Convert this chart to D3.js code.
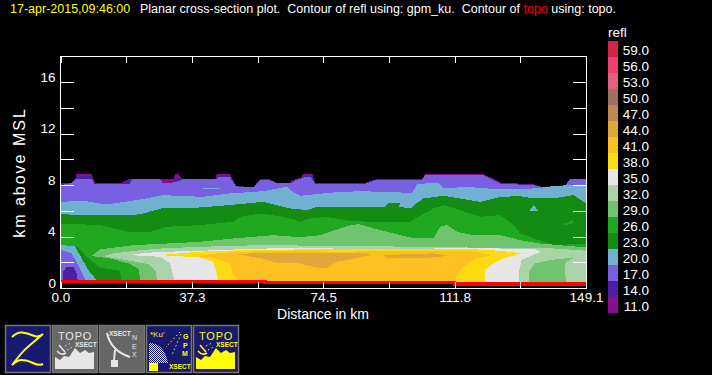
<!DOCTYPE html>
<html>
<head>
<meta charset="utf-8">
<script src="https://cdn.jsdelivr.net/npm/d3@7"></script>
<style>
html, body { margin: 0; padding: 0; background: #000; }
svg { display: block; }
text { font-family: "Liberation Sans", Arial, sans-serif; white-space: pre; }
</style>
</head>
<body>
<script>
// legend
var levels = ["59.0","56.0","53.0","50.0","47.0","44.0","41.0","38.0","35.0","32.0","29.0","26.0","23.0","20.0","17.0","14.0","11.0"];
var levelColors = ["#cf2748","#f0406f","#e0607f","#a07060","#c08850","#e0a838","#fcc020","#fcdc10","#e6e6e6","#a8d4a8","#70c470","#20a820","#148c14","#70b0d0","#7860e0","#4c20a0","#880e90"];

// axes
var distanceTicks = [0, 18.64, 37.28, 55.91, 74.55, 93.19, 111.83, 130.46, 149.1];
var distanceLabels = ["0.0", "", "37.3", "", "74.5", "", "111.8", "", "149.1"];
var heightTicks = [2, 4, 6, 8, 10, 12, 14, 16];
var heightLabels = ["", "4", "", "8", "", "12", "", "16"];

// contour outlines as [distance km, height km], painted lowest level first
var contour11 = [[0,0.4],[0,8.18],[4.1,8.18],[4.4,8.85],[8.8,8.85],[9.8,8.18],[16.9,8.13],[19.3,8.44],[28.2,8.46],[32,8.46],[32.5,8.85],[33.4,8.85],[34.7,8.46],[44,8.46],[44.3,8.85],[48.1,8.85],[50,7.87],[54.7,7.82],[56.6,8.46],[59.4,8.46],[61.3,8.18],[65.1,8.18],[66,8.4],[68,8.55],[69,8.85],[71.5,8.85],[72.2,8.18],[86.4,8.18],[89.7,8.46],[102.5,8.46],[103.5,8.85],[120,8.85],[125.2,8.18],[134.2,8.07],[137,7.82],[142.7,7.82],[144.6,8.46],[149.1,8.46],[149.1,0.4]];
var contour14 = [[0,0.4],[0,8.08],[3.8,8.12],[4.5,8.72],[8.7,8.72],[9.7,8.1],[16.9,8.08],[19.2,8.38],[28.2,8.44],[28.8,8.2],[32,8.2],[32.6,8.66],[33.3,8.66],[34.7,8.44],[44.1,8.44],[44.6,8.76],[47.8,8.76],[49.9,7.92],[54.7,7.86],[56.6,8.42],[59.4,8.42],[61.3,8.15],[65.1,8.15],[66.3,8.36],[68,8.52],[69.3,8.76],[71.4,8.76],[72.2,8.13],[86.4,8.13],[89.7,8.44],[102.5,8.44],[103.5,8.78],[120,8.78],[125.1,8.13],[134.2,8.03],[137,7.84],[142.7,7.84],[144.6,8.46],[149.1,8.46],[149.1,0.4]];
var contour17 = [[0,0.4],[0,7.98],[3.2,8.18],[4.4,8.51],[8.8,8.51],[9.8,8.05],[19.6,8.05],[20.2,8.46],[28.2,8.46],[28.9,8.2],[32,8.2],[33.4,8.3],[34.7,8.46],[44.1,8.46],[45,8.65],[48,8.65],[49.8,7.9],[54.7,7.84],[56.6,8.38],[59.4,8.38],[61.3,8.13],[65.1,8.13],[66.6,8.35],[68,8.5],[70,8.66],[71,8.66],[72.2,8.1],[86.4,8.1],[89.7,8.42],[102.5,8.42],[103.5,8.75],[120,8.75],[125,8.1],[134.2,8],[137,7.84],[142.7,7.84],[144.6,8.46],[149.1,8.46],[149.1,0.4]];
var lobe14 = [[0.6,0.4],[0.6,1.2],[1.6,1.6],[3.6,1.65],[4.6,1.1],[5,0.4]];
var contour20 = [[0,6.7],[6.5,6.78],[11.2,6.57],[15,6.57],[19.7,6.76],[24,6.95],[29,7.22],[40.4,7.09],[48,7.35],[57.5,7.53],[61.8,7.74],[64.2,7.87],[66,7.48],[68,7.17],[77.4,7.43],[85,7.53],[96.4,7.43],[99.7,7.35],[101.1,8.07],[105.8,8.18],[107.3,8.13],[108.7,7.74],[115.3,7.87],[121,7.74],[126.7,7.66],[134.2,7.74],[139.9,7.92],[143.7,7.99],[149.1,7.99],[149.1,0.4],[7.6,0.4],[6.1,1.13],[4.8,1.9],[3.2,2.69],[0,2.98]];
var sliver20 = [[40.4,7.76],[45.3,7.76],[45.3,7.7],[40.4,7.7]];
var contour23 = [[0,5.74],[6.5,5.67],[14,5.67],[20.7,5.67],[23.5,5.8],[29,6.21],[38.6,6.24],[48,6.45],[57.5,6.7],[61.3,6.45],[65.1,6.19],[69.9,6.06],[72.7,6.31],[80.3,6.31],[92.1,6.31],[93,6.62],[96.4,6.62],[96,6.31],[99.4,6.18],[100.9,6.57],[103,6.96],[108.7,7.17],[113.4,6.96],[119.1,6.7],[124.8,7.09],[130.4,7.14],[134.2,6.96],[139.9,6.96],[145.6,7.22],[148.5,6.7],[149.1,6.57],[149.1,0.4],[11,0.4],[8.2,1.26],[6,2.3],[4.1,3.26],[0,3.33]];
var blob20 = [[133,5.98],[134.3,6.45],[135.5,5.98]];
var contour26 = [[0,5.02],[11.2,4.89],[18.8,4.37],[25.4,4.37],[30.1,4.76],[39.6,4.89],[49,5.15],[51,5.54],[56.6,5.79],[63.2,5.54],[68,5.15],[70.8,5.41],[75.5,5.54],[80.3,5.28],[86.9,5.15],[99.2,5.15],[100.7,5.41],[105.8,6.18],[108.7,6.44],[113.4,6.05],[119.1,5.54],[124.8,5.67],[128.6,4.89],[130.4,4.24],[139.9,3.33],[149.1,3.46],[149.1,0.4],[17.4,0.4],[16.9,1.34],[11.2,1.6],[7.6,2.37],[4.6,3.26],[0,3.33]];
var blob26 = [[142.2,4.89],[145.5,5.28],[145.2,4.96]];
var contour29 = [[8.8,2.48],[11.2,3],[13.1,3.07],[20.7,3.33],[30.1,3.46],[39.6,3.59],[49,3.85],[60.4,4.11],[68,3.95],[73.7,4.11],[81.2,4.81],[84.6,4.97],[90.7,4.5],[99.2,3.93],[105.8,3.85],[107.7,4.76],[109.7,4.89],[112.5,4.37],[117,4.11],[124.8,4.11],[130.4,3.72],[136.1,3.46],[149.1,3.15],[149.1,0.4],[22.8,0.4],[22.1,1.5],[19.3,1.91],[14,2.3]];
var contour32 = [[12.2,2.48],[15,2.69],[23,2.95],[30,3.1],[39.6,3.2],[49,3.28],[60,3.35],[68,3.3],[80,3.3],[100,3.2],[110,3.2],[120,3.1],[130,3.1],[136,3.15],[149.1,2.9],[149.1,0.4],[27.5,0.4],[27,1.3],[25,1.85],[20,2.1]];
var contour35 = [[19.3,2.56],[24.5,2.74],[30.1,2.82],[39.6,2.89],[49,2.99],[68,3.15],[77.4,3.07],[96.4,3.07],[105.8,3.07],[115.3,3.15],[124.8,3.07],[134.2,3.07],[136.3,2.82],[134.1,2.56],[130.8,2.17],[130.1,1.27],[130.1,0.4],[32.5,0.4],[31.1,1.91],[28.2,2.43]];
var contour38 = [[28.2,2.56],[35.6,2.74],[43.4,2.89],[68,3],[105.8,3],[118,3],[124.8,2.89],[130.8,2.7],[125.6,2.3],[122.8,1.92],[120.4,1.4],[120.4,0.4],[45,0.4],[44.3,1.13],[43.4,2.04],[39.6,2.37]];
var contour41 = [[38.6,2.48],[44.3,2.69],[51,2.82],[68,2.9],[77.4,2.82],[105.8,2.9],[117,2.89],[122.4,2.55],[117.7,2.3],[114.3,1.65],[112.2,0.87],[112.2,0.4],[51,0.4],[49,1.13],[48.1,1.91],[43.4,2.37],[39.6,2.43]];
var patch44a = [[50.5,2.61],[55.6,2.74],[68,2.69],[87,2.69],[88,2.55],[87,2.49],[78.5,2.04],[75.5,1.57],[73.7,1.52],[68,1.91],[61.4,1.96],[57,2.3]];
var patch44b = [[91.6,2.55],[100,2.65],[105.8,2.69],[109.7,2.55],[107.7,2.4],[99,2.3],[93,2.3]];
var island29 = [[133,0.4],[133,1.27],[134.6,1.92],[138.9,2.17],[145.5,2.38],[143.1,1.92],[143.4,0.4]];

// topo line [distance km, height km]
var topo = [[0,0.5],[58,0.5],[58,0.42],[111.8,0.42],[111.8,0.33],[149.1,0.33]];

var width = 712, height = 375;
var svg = d3.select("body").append("svg").attr("width", width).attr("height", height);

var x = d3.scaleLinear().domain([0, 149.1]).range([60.5, 586]);
var y = d3.scaleLinear().domain([0, 18]).range([288, 56.5]);
var color = d3.scaleOrdinal().domain(levels).range(levelColors);

// title
var title = svg.append("text").attr("x", 10).attr("y", 13).attr("font-size", 12.5).attr("fill", "#fff");
title.append("tspan").attr("fill", "#ffff00").text("17-apr-2015,09:46:00");
title.append("tspan").attr("x", 140).text("Planar cross-section plot.  Contour of refl using: gpm_ku.  Contour of ");
title.append("tspan").attr("fill", "#ff0000").text("topo");
title.append("tspan").text(" using: topo.");

// contours
var layers = [
    ["11.0", contour11], ["14.0", contour14], ["17.0", contour17], ["14.0", lobe14],
    ["20.0", contour20], ["20.0", sliver20], ["23.0", contour23], ["20.0", blob20],
    ["26.0", contour26], ["26.0", blob26], ["29.0", contour29], ["32.0", contour32],
    ["29.0", island29], ["35.0", contour35], ["38.0", contour38], ["41.0", contour41],
    ["44.0", patch44a], ["44.0", patch44b]
];
var line = d3.line().x(function(d) { return x(d[0]); }).y(function(d) { return y(d[1]); });

svg.append("g").selectAll("path").data(layers).enter().append("path")
    .attr("d", function(d) { return line(d[1]) + "Z"; })
    .attr("fill", function(d) { return color(d[0]); })
    .attr("shape-rendering", "crispEdges");

svg.append("path")
    .attr("d", line(topo))
    .attr("fill", "none")
    .attr("stroke", "#ff0000")
    .attr("stroke-width", 3.5)
    .attr("shape-rendering", "crispEdges");

// axes and frame
function styleAxis(g) {
    g.select(".domain").remove();
    g.selectAll("line").attr("stroke", "#fff").attr("shape-rendering", "crispEdges");
    g.selectAll("text").attr("fill", "#fff").attr("font-size", 13.5)
        .style("font-family", '"Liberation Sans", Arial, sans-serif');
}
var xFormat = function(d, i) { return distanceLabels[i]; };
var yFormat = function(d, i) { return heightLabels[i]; };

svg.append("g").attr("transform", "translate(0,288)")
    .call(d3.axisBottom(x).tickValues(distanceTicks).tickFormat(xFormat).tickSize(-6).tickPadding(4))
    .call(styleAxis);
svg.append("g").attr("transform", "translate(0,56.5)")
    .call(d3.axisTop(x).tickValues(distanceTicks).tickFormat("").tickSize(-6))
    .call(styleAxis);
svg.append("g").attr("transform", "translate(60.5,0)")
    .call(d3.axisLeft(y).tickValues(heightTicks).tickFormat(yFormat).tickSize(-13).tickPadding(5))
    .call(styleAxis)
    .selectAll("text").attr("dy", "-0.05em");
svg.append("g").attr("transform", "translate(586,0)")
    .call(d3.axisRight(y).tickValues(heightTicks).tickFormat("").tickSize(-13))
    .call(styleAxis);
svg.append("text").attr("x", 56).attr("y", 288).attr("text-anchor", "end")
    .attr("font-size", 13.5).attr("fill", "#fff").text("0");

svg.append("rect").attr("x", 60.5).attr("y", 56.5).attr("width", 525.5).attr("height", 231.5)
    .attr("fill", "none").attr("stroke", "#fff").attr("shape-rendering", "crispEdges");

svg.append("text").attr("x", 323).attr("y", 319).attr("text-anchor", "middle")
    .attr("font-size", 14).attr("fill", "#fff").text("Distance in km");
svg.append("text").attr("transform", "translate(25,172.5) rotate(-90)").attr("text-anchor", "middle")
    .attr("font-size", 16).attr("letter-spacing", 2).attr("fill", "#fff").text("km above MSL");

// legend
svg.append("text").attr("x", 608).attr("y", 37).attr("font-size", 13.5).attr("fill", "#fff").text("refl");
var legendY = d3.scaleBand().domain(levels).range([41, 313]);
var legend = svg.append("g").selectAll("g").data(levels).enter().append("g");
legend.append("rect").attr("x", 608).attr("width", 10)
    .attr("y", function(d) { return legendY(d); })
    .attr("height", legendY.bandwidth())
    .attr("fill", function(d) { return color(d); })
    .attr("shape-rendering", "crispEdges");
legend.append("text").attr("x", 649).attr("text-anchor", "end")
    .attr("y", function(d) { return legendY(d) + 14; })
    .attr("font-size", 13.5).attr("fill", "#fff").text(function(d) { return d; });

// the five map buttons
var navy = "#191970", grey = "#666666", pale = "#e6e6e6", yel = "#ffff00";
function button(ix, bg) {
    var g = svg.append("g").attr("transform", "translate(" + ix + ",325)");
    g.append("rect").attr("x", 0.5).attr("y", 0.5).attr("width", 45).attr("height", 47)
        .attr("fill", bg).attr("stroke", "#757575").attr("stroke-width", 1.5);
    return g;
}
function label(g, s, tx, ty, size, fill, weight) {
    g.append("text").attr("x", tx).attr("y", ty).attr("font-size", size).attr("fill", fill)
        .attr("font-weight", weight || "normal").text(s);
}
function topoArt(g, fill) {
    label(g, "TOPO", 6, 15, 11, fill);
    g.select("text:last-child").attr("letter-spacing", 0.8);
    label(g, "XSECT", 23, 22, 6.5, fill, "bold");
    g.append("path").attr("fill", fill)
        .attr("d", "M3 44V32L8 35L12 31L17 32L23 23L28 28L33 25L37 28L42 27V44Z");
    g.append("path").attr("fill", "none").attr("stroke", fill).attr("stroke-width", 1.5)
        .attr("d", "M7 20L13 27M5 26Q9 31 14 28");
    g.append("path").attr("fill", "none").attr("stroke", fill).attr("stroke-dasharray", "1.5 2.5")
        .attr("d", "M13 21L19 18M15 25L22 21");
}

var b1 = button(5, navy);
b1.append("path").attr("fill", "none").attr("stroke", yel).attr("stroke-width", 2)
    .attr("d", "M7 12Q12 7 17 7.5T28 10.5T38 9Q31 15 25 20T15 30T7 40Q12 35 17 35T28 38T38 39");

var b2 = button(52, grey);
topoArt(b2, pale);

var b3 = button(99, grey);
label(b3, "XSECT", 10, 11, 6.5, pale, "bold");
label(b3, "N", 33, 15, 7, pale);
label(b3, "E", 33, 23.5, 7, pale);
label(b3, "X", 33, 32, 7, pale);
b3.append("path").attr("fill", "none").attr("stroke", pale).attr("stroke-width", 2)
    .attr("d", "M8 8Q12 26 31 32M16 25L15 35");
b3.append("path").attr("fill", pale).attr("d", "M12 35H19V42H12Z");

var b4 = button(146, navy);
label(b4, "*Ku'", 4, 12, 8, yel);
label(b4, "G", 37, 14, 7, yel, "bold");
label(b4, "P", 37, 22.5, 7, yel, "bold");
label(b4, "M", 36, 31, 7, yel, "bold");
label(b4, "XSECT", 23, 44, 6.5, yel, "bold");
var dither = svg.append("defs").append("pattern").attr("id", "dither")
    .attr("width", 2).attr("height", 2).attr("patternUnits", "userSpaceOnUse");
dither.append("rect").attr("width", 1).attr("height", 1).attr("fill", yel);
dither.append("rect").attr("x", 1).attr("y", 1).attr("width", 1).attr("height", 1).attr("fill", yel);
b4.append("path").attr("fill", "url(#dither)").attr("d", "M3 18Q18 18 22 38H3Z");
b4.append("path").attr("fill", yel).attr("d", "M3 38H12V46H3Z");
b4.append("path").attr("fill", "none").attr("stroke", yel).attr("stroke-dasharray", "1.5 2.5")
    .attr("d", "M34 7L20 22M35 9L26 30");

var b5 = button(193, navy);
topoArt(b5, yel);
</script>
</body>
</html>
